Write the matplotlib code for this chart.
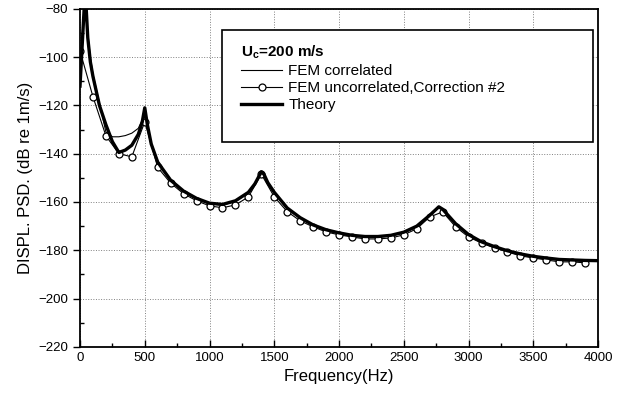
import matplotlib
matplotlib.use('Agg')
import matplotlib.pyplot as plt
from matplotlib.patches import Rectangle
from matplotlib.ticker import MultipleLocator

plt.rcParams['font.family'] = ['Liberation Sans', 'DejaVu Sans']

# Theory / FEM correlated (dense frequency grid)
freq = [0, 20, 40, 60, 80, 100, 150, 200, 250, 300, 350, 400, 450, 480, 500, 520, 550,
        600, 700, 800, 900, 1000, 1100, 1200, 1300, 1350, 1400, 1420, 1450, 1500, 1600,
        1700, 1800, 1900, 2000, 2100, 2200, 2300, 2400, 2500, 2600, 2700, 2770, 2800,
        2850, 2900, 3000, 3100, 3200, 3300, 3400, 3500, 3600, 3700, 3800, 3900, 4000]
theory = [-112, -92, -72, -92, -102, -108, -120, -128, -135, -139.5, -138.5, -136.5, -132,
          -127, -121, -128, -136, -143.5, -151, -155.5, -158.5, -160.5, -161, -159.5, -156,
          -152.5, -147.5, -148.5, -152, -156, -162.5, -166.5, -169.5, -171.5, -172.8, -173.8,
          -174.3, -174.3, -173.8, -172.5, -170, -165.5, -162, -163, -166, -169, -173.5,
          -176.5, -178.5, -180.2, -181.5, -182.5, -183.2, -183.8, -184, -184.2, -184.3]
fem_corr = [-105, -88, -74, -90, -100, -107, -119, -131, -133, -133, -132.5, -131.5, -129.5,
            -126, -121.5, -128, -135.5, -143, -151.3, -155.8, -158.8, -160.8, -161.3, -159.8,
            -156.3, -152.8, -147.8, -148.8, -152.3, -156.3, -162.8, -166.8, -169.8, -171.8,
            -173.1, -174.1, -174.6, -174.6, -174.1, -172.8, -170.3, -165.8, -162.3, -163.3,
            -166.3, -169.3, -173.8, -176.8, -178.8, -180.5, -181.8, -182.8, -183.5, -184.1,
            -184.3, -184.5, -184.6]

# FEM uncorrelated, Correction #2 (every 100 Hz)
freq_unc = list(range(0, 4000, 100))
fem_unc = [-97.4, -116.4, -132.6, -140, -141.3, -126.8, -145.7, -152.2, -156.6, -159.5,
           -161.6, -162.4, -161.2, -157.9, -148.5, -157.9, -164, -167.8, -170.3, -172.4,
           -173.6, -174.5, -175.3, -175.3, -174.9, -173.6, -171.1, -166.2, -164.1, -170.3,
           -174.5, -177, -179, -180.7, -182.3, -183.2, -184, -184.8, -184.8, -185.2]

fig = plt.figure(figsize=(6.25, 4.01), dpi=100)
ax = fig.add_axes([0.128, 0.135, 0.829, 0.843])

ax.plot(freq, fem_corr, color='black', lw=0.8, label='FEM correlated')
ax.plot(freq_unc, fem_unc, color='black', lw=0.8, marker='o', markersize=5,
        markerfacecolor='white', markeredgecolor='black', markeredgewidth=0.9,
        label='FEM uncorrelated,Correction #2')
ax.plot(freq, theory, color='black', lw=2.4, label='Theory')

ax.set_xlim(0, 4000)
ax.set_ylim(-220, -80)
ax.xaxis.set_major_locator(MultipleLocator(500))
ax.xaxis.set_minor_locator(MultipleLocator(250))
ax.yaxis.set_major_locator(MultipleLocator(20))
ax.yaxis.set_minor_locator(MultipleLocator(10))
ax.tick_params(axis='x', which='major', direction='in', length=5, width=1, labelsize=9.5)
ax.tick_params(axis='x', which='minor', direction='in', length=3, width=1)
ax.tick_params(axis='y', which='major', direction='out', length=5, width=1, labelsize=9.5)
ax.tick_params(axis='y', which='minor', direction='in', length=3, width=1)
for s in ax.spines.values():
    s.set_linewidth(1.3)

ax.grid(True, which='major', color='gray', linestyle=':', linewidth=0.7)

ax.set_xlabel('Frequency(Hz)', fontsize=12)
ax.set_ylabel('DISPL. PSD. (dB re 1m/s)', fontsize=12)

# legend frame drawn separately so it can be wider than its content
ax.add_patch(Rectangle((0.274, 0.607), 0.716, 0.331, transform=ax.transAxes,
                       facecolor='white', edgecolor='black', lw=1.2, zorder=4))
leg = ax.legend(loc='upper left', bbox_to_anchor=(0.29, 0.93), frameon=False,
                fontsize=11, title='U$_\\mathregular{c}$=200 m/s', numpoints=1,
                handlelength=2.7, handletextpad=0.4, labelspacing=0.2,
                borderpad=0.2, alignment='left')
leg.get_title().set_fontweight('bold')
leg.get_title().set_fontsize(11)
leg.set_zorder(5)

fig.savefig('out.png', dpi=100)
